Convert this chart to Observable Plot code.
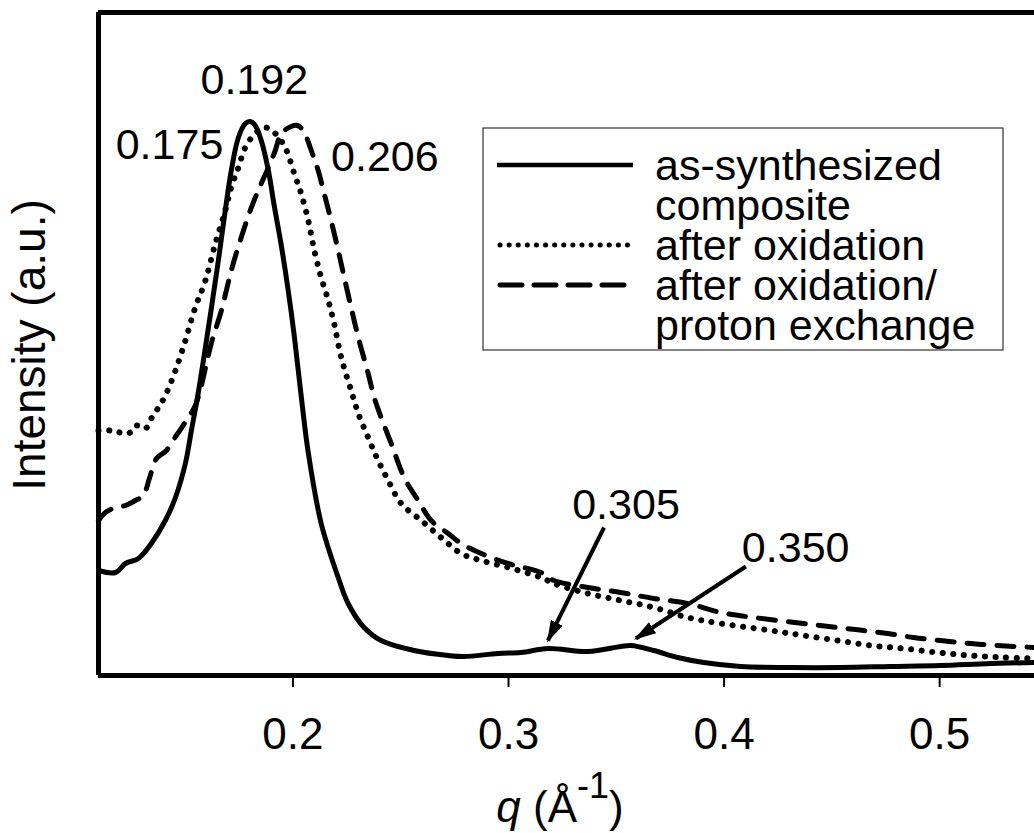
<!DOCTYPE html>
<html>
<head>
<meta charset="utf-8">
<script src="https://cdn.jsdelivr.net/npm/d3@7"></script>
<script src="https://cdn.jsdelivr.net/npm/@observablehq/plot@0.6"></script>
<style>
  body { margin: 0; background: #fff; }
  #chart svg { display: block; }
</style>
</head>
<body>
<div id="chart"></div>
<script>
// ---- Data (q in Å^-1, intensity in arbitrary units) ----
const qSolid = [0.1098,0.1177,0.1223,0.1283,0.1343,0.1408,0.1455,0.1501,0.1529,0.1561,0.1608,0.1654,0.1686,0.1714,0.1747,0.1779,0.1802,0.1825,0.1853,0.1886,0.1913,0.1946,0.1978,0.2006,0.2038,0.2071,0.2131,0.2210,0.2256,0.2330,0.2409,0.2562,0.2720,0.2794,0.2951,0.3058,0.3183,0.3368,0.3521,0.3568,0.3674,0.3785,0.3906,0.4077,0.4309,0.4541,0.4772,0.5004,0.5236,0.5440];
const iSolid = [107,105,114,119,134,157,180,214,247,285,350,417,467,507,540,554,556,552,537,507,472,432,387,342,282,225,154,100,74,50,37,27,22,21,24,25,29,26,31,32,27,20,15,11,10,10,11,12,14,15];

const qDotted = [0.1098,0.1158,0.1237,0.1274,0.1316,0.1343,0.1376,0.1408,0.1455,0.1501,0.1547,0.1594,0.1640,0.1686,0.1714,0.1747,0.1779,0.1825,0.1872,0.1918,0.1964,0.2006,0.2038,0.2071,0.2099,0.2131,0.2164,0.2191,0.2224,0.2270,0.2303,0.2349,0.2395,0.2442,0.2502,0.2595,0.2687,0.2780,0.2873,0.2998,0.3151,0.3211,0.3368,0.3521,0.3674,0.3832,0.3985,0.4216,0.4369,0.4527,0.4680,0.4833,0.4990,0.5143,0.5296,0.5440];
const iDotted = [247,247,244,252,249,259,270,282,307,337,370,397,434,467,490,510,530,544,550,544,530,504,484,457,427,400,377,354,320,287,264,240,217,197,174,157,140,124,117,110,100,94,84,77,70,60,54,47,42,37,32,29,25,22,20,19];

const qDashed = [0.1098,0.1130,0.1177,0.1223,0.1269,0.1306,0.1334,0.1367,0.1413,0.1459,0.1506,0.1547,0.1575,0.1621,0.1668,0.1714,0.1760,0.1807,0.1853,0.1886,0.1918,0.1946,0.1992,0.2020,0.2048,0.2085,0.2117,0.2145,0.2177,0.2210,0.2238,0.2270,0.2303,0.2349,0.2377,0.2409,0.2456,0.2516,0.2581,0.2641,0.2720,0.2780,0.2873,0.2998,0.3151,0.3211,0.3368,0.3521,0.3674,0.3832,0.3985,0.4138,0.4369,0.4527,0.4647,0.4759,0.4879,0.5004,0.5143,0.5268,0.5440];
const iDashed = [157,165,170,172,177,182,199,219,227,242,257,272,292,334,367,407,440,470,494,510,527,544,551,552,547,527,507,484,457,427,400,370,340,304,280,260,234,200,177,157,144,134,124,114,105,97,90,85,79,74,65,60,54,50,47,44,40,37,34,32,30];

const seriesLegend = ["as-synthesized", "composite", "after oxidation", "after oxidation/", "proton exchange"];
const xTicks = [0.2, 0.3, 0.4, 0.5];

// peak labels: text, q, intensity, anchor
const labelText = ["0.192", "0.175", "0.206", "0.305", "0.350"];
const labelQ    = [0.1821, 0.1677, 0.2177, 0.3545, 0.4332];
const labelI    = [597, 532, 520, 172, 129];
const labelAnchor = ["middle", "end", "start", "middle", "middle"];

// arrows: from (q1,i1) to (q2,i2)
const arrowQ1 = [0.3443, 0.4101];
const arrowI1 = [150, 111];
const arrowQ2 = [0.3183, 0.3591];
const arrowI2 = [37, 39];

// ---- build tables ----
const mk = (qs, is) => qs.map((q, k) => ({q, I: is[k]}));
const solid = mk(qSolid, iSolid);
const dotted = mk(qDotted, iDotted);
const dashed = mk(qDashed, iDashed);
const labels = labelText.map((t, k) => ({t, q: labelQ[k], I: labelI[k], a: labelAnchor[k]}));
const arrows = arrowQ1.map((q1, k) => ({q1, i1: arrowI1[k], q2: arrowQ2[k], i2: arrowI2[k]}));

const FONT = "'Liberation Sans', Arial, Helvetica, sans-serif";
const xDomain = [0.1098, 0.544];
const yDomain = [2, 665];

const chart = Plot.plot({
  width: 1034,
  height: 833,
  marginLeft: 98,
  marginRight: 0,
  marginTop: 12,
  marginBottom: 158,
  style: {fontFamily: FONT, fontSize: "43px", background: "white", color: "black", overflow: "visible"},
  x: {domain: xDomain, label: null, axis: null},
  y: {domain: yDomain, axis: null},
  marks: [
    Plot.axisX(xTicks, {tickSize: 12, tickPadding: 30, strokeWidth: 2, fontSize: 44, tickFormat: d => d.toFixed(1), label: null}),
    Plot.line(dashed, {x: "q", y: "I", stroke: "black", strokeWidth: 5, strokeDasharray: "17 13", strokeLinecap: "round", curve: "catmull-rom"}),
    Plot.line(dotted, {x: "q", y: "I", stroke: "black", strokeWidth: 6, strokeDasharray: "0.1 10.5", strokeLinecap: "round", curve: "catmull-rom"}),
    Plot.line(solid, {x: "q", y: "I", stroke: "black", strokeWidth: 5, curve: "catmull-rom"}),
    Plot.ruleX([xDomain[0]], {stroke: "black", strokeWidth: 5}),
    Plot.ruleY([yDomain[0]], {stroke: "black", strokeWidth: 5}),
    Plot.ruleY([yDomain[1]], {stroke: "black", strokeWidth: 5}),
    Plot.text(labels, {x: "q", y: "I", text: "t", fontSize: 43, fill: "black"}),
    Plot.link(arrows, {x1: "q1", y1: "i1", x2: "q2", y2: "i2", stroke: "black", strokeWidth: 4})
  ]
});

document.getElementById("chart").appendChild(chart);
const svg = d3.select(chart);
svg.selectAll('g[aria-label="text"] text').each(function(d, i) {
  d3.select(this).attr("text-anchor", labels[i].a);
});

// filled arrowheads
const defs = svg.insert("defs", ":first-child");
defs.append("marker")
  .attr("id", "ah").attr("viewBox", "0 0 10 6").attr("refX", 9).attr("refY", 3)
  .attr("markerWidth", 5.5).attr("markerHeight", 3.3).attr("markerUnits", "strokeWidth").attr("orient", "auto")
  .append("path").attr("d", "M0,0 L10,3 L0,6 Z").attr("fill", "black");
svg.selectAll('g[aria-label="link"] path').attr("marker-end", "url(#ah)");

// legend
const lg = svg.append("g").attr("font-family", FONT).attr("font-size", 43).attr("text-anchor", "start");
lg.append("rect").attr("x", 483).attr("y", 128).attr("width", 520).attr("height", 222)
  .attr("fill", "white").attr("stroke", "#333").attr("stroke-width", 1.2);
const rowY = [165, 205, 245, 285, 325];
seriesLegend.forEach((t, k) => {
  lg.append("text").attr("x", 655).attr("y", rowY[k]).attr("dy", "0.35em").attr("text-anchor", "start").text(t);
});
lg.append("line").attr("x1", 497).attr("x2", 633).attr("y1", rowY[0]).attr("y2", rowY[0])
  .attr("stroke", "black").attr("stroke-width", 4.5);
lg.append("line").attr("x1", 500).attr("x2", 633).attr("y1", rowY[2]).attr("y2", rowY[2])
  .attr("stroke", "black").attr("stroke-width", 5).attr("stroke-dasharray", "0.1 9").attr("stroke-linecap", "round");
lg.append("line").attr("x1", 500).attr("x2", 633).attr("y1", rowY[3]).attr("y2", rowY[3])
  .attr("stroke", "black").attr("stroke-width", 5).attr("stroke-dasharray", "22 12").attr("stroke-linecap", "round");

// axis titles
svg.append("text").attr("transform", "translate(45,345) rotate(-90)")
  .attr("text-anchor", "middle").attr("font-family", FONT).attr("font-size", 46).attr("fill", "black")
  .text("Intensity (a.u.)");
const xl = svg.append("text").attr("x", 560).attr("y", 822).attr("text-anchor", "middle")
  .attr("font-family", FONT).attr("font-size", 44).attr("fill", "black");
xl.append("tspan").attr("font-style", "italic").text("q");
xl.append("tspan").text(" (Å");
xl.append("tspan").attr("dy", -24).attr("font-size", 36).text("-1");
xl.append("tspan").attr("dy", 24).text(")");
</script>
</body>
</html>
